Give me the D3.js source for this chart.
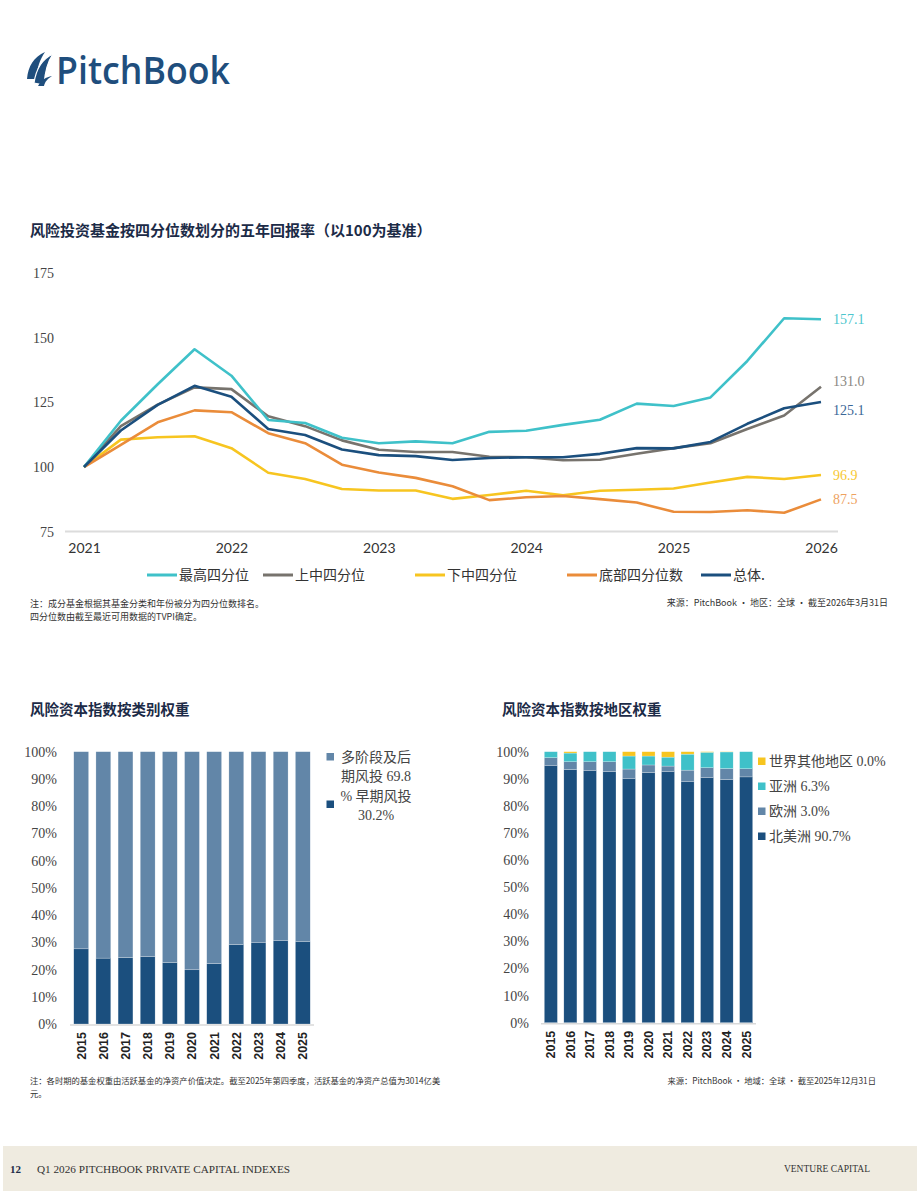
<!DOCTYPE html>
<html>
<head>
<meta charset="utf-8">
<script src="https://cdn.jsdelivr.net/npm/d3@7"></script>
<style>
  body { margin: 0; background: #fff; }
  svg { display: block; }
</style>
</head>
<body>
<svg id="page" width="920" height="1191"></svg>
<script>
// line chart data, quarterly 2021 Q1 .. 2026 Q1
var years = [2021, 2022, 2023, 2024, 2025, 2026];
var topQ = [100, 117.9, 132, 145.5, 135.3, 118.2, 117, 111.3, 109.2, 109.9, 109.2, 113.6, 114, 116.3, 118.3, 124.5, 123.6, 126.9, 141, 157.5, 157.1];
var upperMid = [100, 115.8, 124.1, 130.8, 130.1, 119.6, 115.8, 110.3, 106.7, 105.8, 105.8, 104, 103.8, 102.6, 102.8, 105.1, 107.3, 109.2, 114.7, 119.9, 131.0];
var lowerMid = [100, 110.6, 111.5, 111.9, 107.3, 97.8, 95.4, 91.5, 90.9, 90.9, 87.7, 89.2, 90.8, 89.1, 90.8, 91.2, 91.7, 94, 96.2, 95.4, 96.9];
var bottomQ = [100, 108.6, 117.3, 121.9, 121.2, 113.1, 109.2, 100.9, 97.9, 95.8, 92.6, 87.2, 88.3, 88.8, 87.6, 86.3, 82.7, 82.6, 83.3, 82.3, 87.5];
var overall = [100, 114.1, 124, 131.4, 127.2, 114.7, 112.4, 106.8, 104.6, 104.2, 102.7, 103.5, 103.8, 103.8, 105.1, 107.3, 107.2, 109.7, 116.7, 122.7, 125.1];
var lineNames = ["最高四分位", "上中四分位", "下中四分位", "底部四分位数", "总体."];
var lineTicks = [75, 100, 125, 150, 175];

// bar charts
var barYears = ["2015", "2016", "2017", "2018", "2019", "2020", "2021", "2022", "2023", "2024", "2025"];
var earlyStage = [27.6, 24.2, 24.4, 24.8, 22.6, 19.9, 22.2, 29.2, 30.0, 30.7, 30.2];
var lateStage = [72.4, 75.8, 75.6, 75.2, 77.4, 80.1, 77.8, 70.8, 70.0, 69.3, 69.8];
var northAmerica = [94.8, 93.4, 93.1, 92.7, 90.0, 92.3, 92.6, 88.9, 90.4, 89.7, 90.7];
var europe = [3.0, 2.9, 3.2, 3.6, 3.6, 2.8, 2.1, 4.3, 3.7, 4.1, 3.0];
var asia = [2.2, 3.2, 3.7, 3.7, 4.8, 3.3, 3.3, 5.9, 5.7, 6.1, 6.3];
var restOfWorld = [0.0, 0.5, 0.0, 0.0, 1.6, 1.6, 2.0, 0.9, 0.2, 0.1, 0.0];
var pctTicks = [0, 10, 20, 30, 40, 50, 60, 70, 80, 90, 100];

var svg = d3.select("#page");
var cjk = "'Noto Sans CJK SC', sans-serif";
var serif = "'Liberation Serif', 'Noto Sans CJK SC', serif";
var navy = "#1b4f7e";

// logo
var logo = svg.append("g").attr("fill", "#1f4e7d");
logo.append("path").attr("d", "M27,79 C28,66 34,57 45,52 C40,59 37,68 36,79 Z");
logo.append("path").attr("d", "M34,83 C36,69 42,59 53,54 C48,61 45,71 44,85 Z").attr("stroke", "#fff").attr("stroke-width", 1.2);
logo.append("path").attr("d", "M38,86 C41,80 46,77 52,76 C47,79 45,82 44,86 Z");
logo.append("text").attr("x", 56).attr("y", 84)
  .attr("font-family", "'Open Sans', sans-serif").attr("font-weight", 600).attr("font-size", 37)
  .attr("textLength", 174).attr("lengthAdjust", "spacingAndGlyphs")
  .text("PitchBook");

// ---------- line chart ----------
svg.append("text").attr("x", 30).attr("y", 236)
  .attr("font-family", cjk).attr("font-weight", "bold").attr("font-size", 15)
  .attr("fill", "#1c2b47").text("风险投资基金按四分位数划分的五年回报率（以100为基准）");

var x = d3.scaleLinear().domain([0, 20]).range([84, 821]);
var y = d3.scaleLinear().domain([75, 175]).range([531.7, 273]);

svg.append("line").attr("x1", 65).attr("x2", 838).attr("y1", 531.5).attr("y2", 531.5)
  .attr("stroke", "#dcdcdc").attr("stroke-width", 2);

var yAxis = svg.append("g").attr("transform", "translate(58,0)")
  .call(d3.axisLeft(y).tickValues(lineTicks).tickSize(0).tickPadding(4));
yAxis.select(".domain").remove();
yAxis.selectAll("text").attr("font-family", serif).attr("font-size", 14).attr("fill", "#444");

var xAxis = svg.append("g").attr("transform", "translate(0,540)")
  .call(d3.axisBottom(x).tickValues([0, 4, 8, 12, 16, 20]).tickSize(0).tickFormat(function(d, i) { return years[i]; }));
xAxis.select(".domain").remove();
xAxis.selectAll("text").attr("font-family", "Lato, sans-serif").attr("font-size", 14).attr("fill", "#333");

var series = [
  { vals: topQ, color: "#3fc1c9", label: "#4cc6cd", dy: 0 },
  { vals: upperMid, color: "#77736d", label: "#8a8782", dy: -6 },
  { vals: lowerMid, color: "#f7c520", label: "#f7c832", dy: 0 },
  { vals: bottomQ, color: "#ea8c3a", label: "#eea25f", dy: 0 },
  { vals: overall, color: navy, label: "#3b6797", dy: 8 }
];
var line = d3.line().x(function(d, i) { return x(i); }).y(function(d) { return y(d); });
// draw order: overall on top
[1, 2, 3, 0, 4].forEach(function(k) {
  var s = series[k];
  svg.append("path").datum(s.vals).attr("d", line)
    .attr("fill", "none").attr("stroke", s.color).attr("stroke-width", 2.6)
    .attr("stroke-linejoin", "round");
});
series.forEach(function(s) {
  var last = s.vals[s.vals.length - 1];
  svg.append("text").attr("x", 833).attr("y", y(last) + s.dy).attr("dy", "0.35em")
    .attr("font-family", serif).attr("font-size", 14).attr("fill", s.label)
    .text(last.toFixed(1));
});

// legend
var legX = [147, 263, 415, 567, 701];
var leg = svg.append("g").attr("font-family", cjk).attr("font-size", 14).attr("fill", "#333");
series.forEach(function(s, i) {
  leg.append("line").attr("x1", legX[i]).attr("x2", legX[i] + 30).attr("y1", 575).attr("y2", 575)
    .attr("stroke", s.color).attr("stroke-width", 3);
  leg.append("text").attr("x", legX[i] + 32).attr("y", 575).attr("dy", "0.35em").text(lineNames[i]);
});

var notes = svg.append("g").attr("font-family", cjk).attr("font-size", 9).attr("fill", "#333");
notes.append("text").attr("x", 30).attr("y", 607).text("注：成分基金根据其基金分类和年份被分为四分位数排名。");
notes.append("text").attr("x", 30).attr("y", 620).text("四分位数由截至最近可用数据的TVPI确定。");
notes.append("text").attr("x", 888).attr("y", 606).attr("text-anchor", "end").text("来源：PitchBook · 地区：全球 · 截至2026年3月31日");

// ---------- bar charts ----------
function barChart(opt) {
  var g = svg.append("g");
  g.append("text").attr("x", opt.titleX).attr("y", 715)
    .attr("font-family", cjk).attr("font-weight", "bold").attr("font-size", 14.5)
    .attr("fill", "#1c2b47").text(opt.title);
  var bx = d3.scaleBand().domain(barYears).range(opt.xr).paddingInner(0.33).paddingOuter(0.17);
  var by = d3.scaleLinear().domain([0, 100]).range([opt.y0, 751.7]);
  var stack = d3.stack().keys(d3.range(opt.layers.length))
    .value(function(d, k) { return opt.layers[k][d]; })(d3.range(barYears.length));
  stack.forEach(function(layer, k) {
    g.append("g").selectAll("rect").data(layer).enter().append("rect")
      .attr("x", function(d, i) { return bx(barYears[i]); })
      .attr("width", bx.bandwidth())
      .attr("y", function(d) { return by(d[1]); })
      .attr("height", function(d) { return by(d[0]) - by(d[1]); })
      .attr("fill", opt.colors[k])
      .attr("stroke", "#fff").attr("stroke-width", 0.4).attr("stroke-opacity", 0.6);
  });
  g.append("line").attr("x1", opt.xr[0]).attr("x2", opt.xr[1]).attr("y1", opt.y0 + 1).attr("y2", opt.y0 + 1)
    .attr("stroke", "#d9d9d9").attr("stroke-width", 1.5);
  var ya = g.append("g").attr("transform", "translate(" + opt.tickX + ",0)")
    .call(d3.axisLeft(by).tickValues(pctTicks).tickSize(0).tickPadding(0).tickFormat(function(d) { return d + "%"; }));
  ya.select(".domain").remove();
  ya.selectAll("text").attr("font-family", serif).attr("font-size", 14).attr("fill", "#444");
  g.append("g").selectAll("text").data(barYears).enter().append("text")
    .attr("transform", function(d) { return "translate(" + (bx(d) + bx.bandwidth() / 2) + "," + (opt.y0 + 8) + ") rotate(-90)"; })
    .attr("text-anchor", "end").attr("dy", "0.35em")
    .attr("font-family", "'Liberation Sans', Arial, sans-serif").attr("font-weight", "bold")
    .attr("font-size", 12.5).attr("fill", "#222").text(function(d) { return d; });
  return g;
}

barChart({
  title: "风险资本指数按类别权重", titleX: 30, xr: [70, 314], y0: 1024, tickX: 57,
  layers: [earlyStage, lateStage], colors: [navy, "#6286a8"]
});
barChart({
  title: "风险资本指数按地区权重", titleX: 502, xr: [541, 756], y0: 1022.7, tickX: 529,
  layers: [northAmerica, europe, asia, restOfWorld], colors: [navy, "#6286a8", "#3fc1c9", "#f7c520"]
});

// left legend
var ll = svg.append("g").attr("font-family", serif).attr("font-size", 14).attr("fill", "#444").attr("text-anchor", "middle");
svg.append("rect").attr("x", 326.5).attr("y", 753).attr("width", 7.5).attr("height", 7.5).attr("fill", "#6286a8");
svg.append("rect").attr("x", 326.5).attr("y", 800.5).attr("width", 7.5).attr("height", 7.5).attr("fill", navy);
["多阶段及后", "期风投 69.8", "% 早期风投", "30.2%"].forEach(function(t, i) {
  ll.append("text").attr("x", 376).attr("y", 757 + i * 19.5).attr("dy", "0.35em").text(t);
});

// right legend
var rl = [["世界其他地区 0.0%", "#f7c520"], ["亚洲 6.3%", "#3fc1c9"], ["欧洲 3.0%", "#6286a8"], ["北美洲 90.7%", navy]];
rl.forEach(function(r, i) {
  var yy = 761 + i * 25;
  svg.append("rect").attr("x", 758).attr("y", yy - 3.5).attr("width", 7.5).attr("height", 7.5).attr("fill", r[1]);
  svg.append("text").attr("x", 769).attr("y", yy).attr("dy", "0.35em")
    .attr("font-family", serif).attr("font-size", 14).attr("fill", "#444").text(r[0]);
});

var notes2 = svg.append("g").attr("font-family", cjk).attr("font-size", 8.3).attr("fill", "#333");
notes2.append("text").attr("x", 30).attr("y", 1084).text("注：各时期的基金权重由活跃基金的净资产价值决定。截至2025年第四季度，活跃基金的净资产总值为3014亿美");
notes2.append("text").attr("x", 30).attr("y", 1097).text("元。");
notes2.append("text").attr("x", 876).attr("y", 1084).attr("text-anchor", "end").text("来源：PitchBook · 地域：全球 · 截至2025年12月31日");

// footer
svg.append("rect").attr("x", 3).attr("y", 1146).attr("width", 914).attr("height", 45).attr("fill", "#efebe0");
svg.append("text").attr("x", 10).attr("y", 1173).attr("font-family", serif).attr("font-weight", "bold")
  .attr("font-size", 11).attr("fill", "#1c2b47").text("12");
svg.append("text").attr("x", 37).attr("y", 1173).attr("font-family", serif)
  .attr("font-size", 10).attr("fill", "#333")
  .attr("textLength", 253).attr("lengthAdjust", "spacingAndGlyphs")
  .text("Q1 2026 PITCHBOOK PRIVATE CAPITAL INDEXES");
svg.append("text").attr("x", 870).attr("y", 1172).attr("text-anchor", "end").attr("font-family", serif)
  .attr("font-size", 9.5).attr("fill", "#333").text("VENTURE CAPITAL");
</script>
</body>
</html>
